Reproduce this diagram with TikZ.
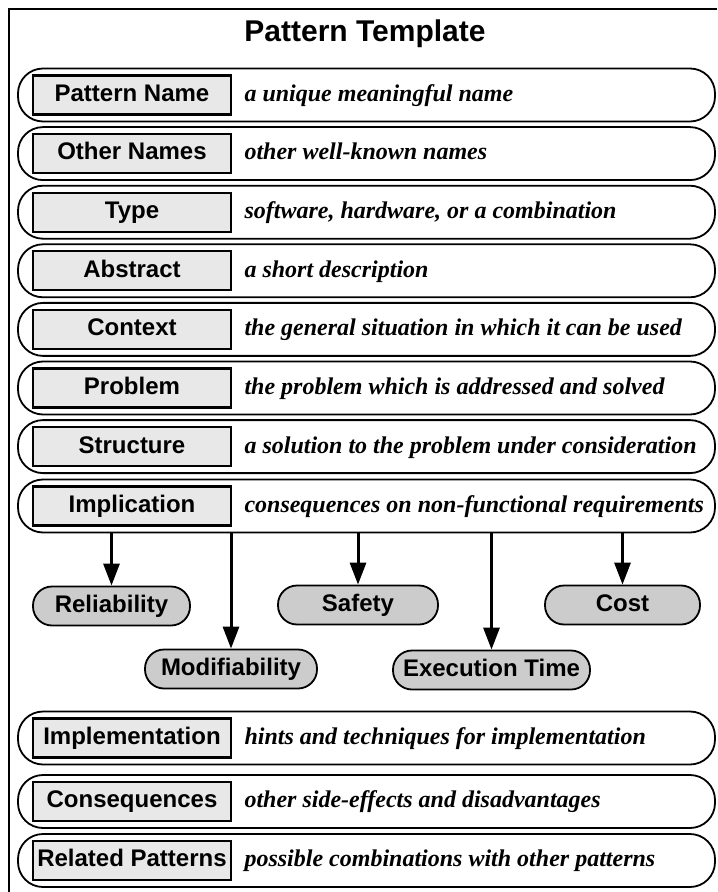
\documentclass[tikz,border=0pt]{standalone}
\usepackage{fontspec}
\setmainfont{Liberation Serif}
\setsansfont{Liberation Sans}
\usetikzlibrary{positioning,arrows.meta}

\begin{document}
\begin{tikzpicture}[x=0.5pt, y=-0.5pt,
    capsule/.style={draw, line width=0.9pt, rounded corners=12.5pt, minimum width=348.5pt, minimum height=26.5pt},
    lblbox/.style={draw, line width=1.1pt, fill=gray!18, inner sep=1pt, text height=8.8pt, text depth=2.4pt, minimum width=99pt, minimum height=19.5pt, font=\sffamily\bfseries\fontsize{12}{14}\selectfont},
    desc/.style={inner sep=0pt, text height=8.8pt, text depth=2.4pt, font=\bfseries\itshape\fontsize{12}{14}\selectfont},
    quality/.style={draw, line width=0.9pt, fill=gray!40, rounded corners=9.5pt, inner sep=1pt, text height=8.8pt, text depth=2.4pt, minimum height=19.5pt, font=\sffamily\bfseries\fontsize{12}{14}\selectfont},
    impl/.style={line width=1.5pt, -{Triangle[length=11pt,width=8pt]}}]

  \useasboundingbox (0,0) rectangle (717,892);

  % Frame and title
  \draw[line width=1pt] (9,892) |- (717,9);
  \node[font=\sffamily\bfseries\fontsize{15}{18}\selectfont, anchor=base] (title) at (365,42) {Pattern Template};

  % Template rows
  \foreach \i/\y/\lbl/\txt in {
      1/95/Pattern Name/a unique meaningful name,
      2/153.6/Other Names/other well-known names,
      3/212.2/Type/{software, hardware, or a combination},
      4/270.8/Abstract/a short description,
      5/329.4/Context/the general situation in which it can be used,
      6/388/Problem/the problem which is addressed and solved,
      7/446.6/Structure/a solution to the problem under consideration,
      8/506/Implication/consequences on non-functional requirements,
      9/738/Implementation/hints and techniques for implementation,
      10/801.5/Consequences/other side-effects and disadvantages,
      11/860.5/Related Patterns/possible combinations with other patterns} {
    \node[capsule] (cap\i) at (366.5,\y) {};
    \node[lblbox] (lbl\i) at (132,\y) {\lbl};
    \node[desc, right=6pt of lbl\i] (txt\i) {\txt};
  }

  % Non-functional requirements
  \node[quality, minimum width=78.5pt] (rel) at (111.5,606) {Reliability};
  \node[quality, minimum width=86pt] (mod) at (231,669) {Modifiability};
  \node[quality, minimum width=80pt] (safe) at (358,605) {Safety};
  \node[quality, minimum width=98.5pt] (exec) at (491.5,670) {Execution Time};
  \node[quality, minimum width=77.5pt] (cost) at (622.5,605) {Cost};

  \foreach \q in {rel,mod,safe,exec,cost}
    \draw[impl] (\q |- cap8.south) -- (\q);

\end{tikzpicture}
\end{document}
